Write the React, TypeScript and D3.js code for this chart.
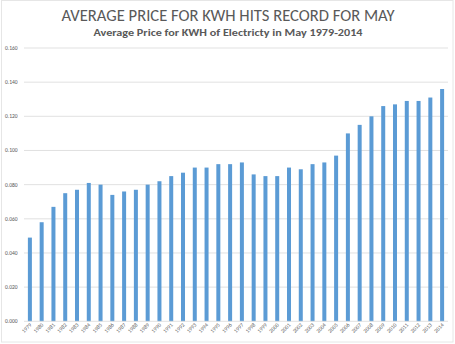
import React from "react";
import * as d3 from "d3";

const years: string[] = [
  "1979","1980","1981","1982","1983","1984","1985","1986","1987","1988","1989","1990",
  "1991","1992","1993","1994","1995","1996","1997","1998","1999","2000","2001","2002",
  "2003","2004","2005","2006","2007","2008","2009","2010","2011","2012","2013","2014",
];
const prices: number[] = [
  0.049, 0.058, 0.067, 0.075, 0.077, 0.081, 0.080, 0.074, 0.076, 0.077, 0.080, 0.082,
  0.085, 0.087, 0.090, 0.090, 0.092, 0.092, 0.093, 0.086, 0.085, 0.085, 0.090, 0.089,
  0.092, 0.093, 0.097, 0.110, 0.115, 0.120, 0.126, 0.127, 0.129, 0.129, 0.131, 0.136,
];
const yTicks: number[] = [0, 0.02, 0.04, 0.06, 0.08, 0.1, 0.12, 0.14, 0.16];
const title = "AVERAGE PRICE FOR KWH HITS RECORD FOR MAY";
const subtitle = "Average Price for KWH of Electricty in May 1979-2014";

export default function App() {
  const W = 455, H = 344;
  const left = 24, right = 448, top = 48, bottom = 321.3;
  const x = d3.scaleBand<string>().domain(years).range([left, right]).paddingInner(0.66).paddingOuter(0.33);
  const y = d3.scaleLinear().domain([0, 0.16]).range([bottom, top]);
  const font = "Calibri, Carlito, 'Open Sans', 'Liberation Sans', sans-serif";
  return (
    <svg width={W} height={H} style={{ position: "absolute", left: 0, top: 0, display: "block", background: "#fff" }} fontFamily={font}>
      <rect x={1.5} y={0.5} width={451.5} height={341.5} fill="#fff" stroke="#e6e6e6" />
      <text x={228} y={21} textAnchor="middle" fontSize={15.5} fill="#595959" textLength={333} lengthAdjust="spacingAndGlyphs">{title}</text>
      <text x={228} y={36} textAnchor="middle" fontSize={10.5} fontWeight="bold" fill="#595959" textLength={269} lengthAdjust="spacingAndGlyphs">{subtitle}</text>
      {yTicks.map((t) => (
        <g key={t}>
          {t > 0 && <line x1={left} x2={right} y1={y(t)} y2={y(t)} stroke="#d9d9d9" strokeWidth={0.8} />}
          <text x={5} y={y(t) + 2} fontSize={5.5} fill="#595959">{d3.format(".3f")(t)}</text>
        </g>
      ))}
      {years.map((yr, i) => (
        <rect key={yr} x={x(yr)} y={y(prices[i])} width={x.bandwidth()} height={bottom - y(prices[i])} fill="#5b9bd5" />
      ))}
      <line x1={left} x2={right} y1={bottom} y2={bottom} stroke="#d9d9d9" strokeWidth={0.8} />
      {years.map((yr) => {
        const cx = (x(yr) as number) + x.bandwidth() / 2 + 2;
        const cy = bottom + 4;
        return (
          <text key={yr} transform={`translate(${cx},${cy}) rotate(-45)`} textAnchor="end" fontSize={5.5} fill="#595959">{yr}</text>
        );
      })}
    </svg>
  );
}
